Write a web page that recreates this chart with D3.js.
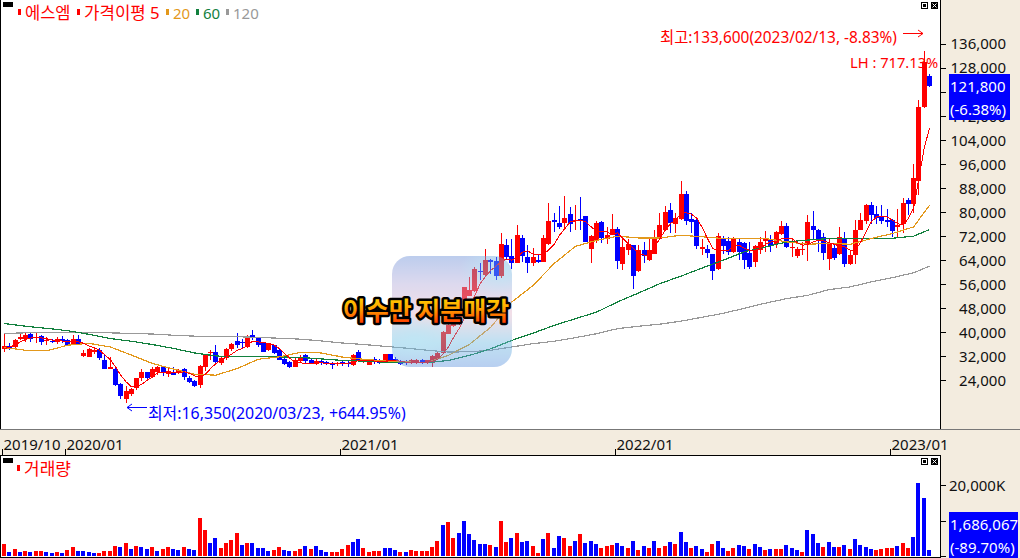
<!DOCTYPE html>
<html>
<head>
<meta charset="utf-8">
<script src="https://d3js.org/d3.v7.min.js"></script>
<style>
  html, body { margin: 0; padding: 0; background: #f3ecdf; overflow: hidden; }
  svg { display: block; }
  text { font-family: "Noto Sans", "Noto Sans CJK KR", sans-serif; }
  .axis text { font-size: 15px; fill: #111; }
  .axis line { stroke: #000; shape-rendering: crispEdges; }
</style>
</head>
<body>
<svg id="drawing_region"></svg>
<script>
// weekly candles, thousand won
const high = [39.5,36.2,37.8,39.5,39.5,40.0,39.5,38.9,38.2,37.8,38.2,38.6,37.5,38.9,38.9,33.9,34.7,34.5,34.5,32.3,31.7,28.6,23.0,21.9,21.2,24.6,27.5,26.8,28.4,28.6,28.4,28.4,28.4,27.8,28.0,25.3,23.9,28.9,32.8,33.9,35.6,31.7,34.5,36.4,39.5,37.8,39.0,40.6,38.4,36.4,36.4,35.8,34.5,31.2,30.3,31.2,32.3,32.8,31.2,31.2,30.8,30.4,30.0,30.0,
  30.5,30.5,32.5,33.9,31.1,30.9,31.6,31.1,32.8,32.8,31.6,30.5,30.5,31.1,31.1,31.1,30.8,32.2,33.3,40.3,42.5,44.4,49.4,55.0,58.3,61.6,63.0,67.5,64.4,65.0,73.0,71.1,71.1,75.5,72.2,68.9,67.8,65.5,72.2,82.8,79.6,81.9,85.2,81.6,82.2,85.0,78.5,72.2,77.0,77.0,75.0,79.2,75.0,
  71.6,71.1,68.9,68.9,70.0,71.1,74.1,79.5,81.9,83.1,79.5,90.2,87.0,79.5,77.5,71.1,68.9,66.1,73.0,72.0,71.7,71.7,71.1,70.0,70.0,68.9,71.7,73.6,72.2,73.6,76.9,76.3,71.1,68.3,70.0,78.9,80.2,74.4,72.8,71.1,68.9,75.0,73.3,67.2,77.2,79.5,82.5,83.3,81.9,82.2,81.1,77.5,80.8,84.5,84.5,95.9,117.2,133.6,125.9];
const low = [33.4,33.9,34.5,37.3,36.7,36.7,36.2,35.6,35.6,36.2,35.9,36.4,35.3,35.6,35.6,31.7,31.5,32.8,30.8,27.6,27.5,21.9,17.8,16.35,18.7,20.8,23.6,23.9,24.8,25.6,25.3,25.0,25.6,25.9,23.9,23.0,21.5,21.3,27.0,30.6,28.9,28.9,30.6,33.7,34.5,34.7,34.5,37.3,35.0,33.2,33.7,32.8,30.6,28.9,28.0,28.2,30.0,29.5,29.5,28.9,28.9,28.9,27.8,28.6,
  28.5,28.3,28.8,30.5,29.6,28.9,29.4,29.2,30.0,30.3,30.0,28.9,28.9,29.4,29.4,29.4,29.4,28.3,30.5,32.8,39.2,41.6,42.2,48.9,51.9,53.3,57.2,58.5,59.4,57.4,58.1,63.9,61.0,62.8,63.3,59.6,61.9,63.0,63.2,68.9,73.3,74.4,73.9,73.3,73.9,73.9,69.8,63.0,69.6,69.6,69.2,72.2,61.1,
  60.6,65.6,54.3,60.0,62.8,63.7,65.9,70.8,73.9,72.8,72.8,77.2,75.6,73.0,67.6,65.6,64.5,57.2,60.6,66.1,65.6,66.3,63.9,61.1,61.1,61.7,66.1,66.7,66.7,67.8,72.2,67.8,65.0,64.5,65.6,63.7,70.6,66.7,63.9,60.6,63.9,65.6,61.7,62.2,62.6,73.9,76.1,76.1,76.1,76.1,75.0,71.7,71.7,73.0,78.9,79.6,85.6,114.6,121.6];
const open = [34.2,35.3,35.0,37.7,37.8,39.3,38.0,38.7,36.9,37.0,36.7,37.5,37.3,35.9,37.8,31.9,31.7,33.4,33.9,30.6,27.8,27.6,22.8,17.8,19.3,21.2,24.5,26.6,25.0,26.5,28.2,25.9,26.8,26.2,27.6,24.8,23.5,22.2,28.4,33.0,33.2,29.8,31.2,34.2,36.9,36.7,35.0,38.9,38.0,36.2,33.9,35.6,33.9,30.9,29.9,28.2,30.2,32.3,30.6,29.5,30.4,29.9,29.7,29.3,
  30.0,29.8,28.9,33.3,30.2,28.9,30.9,30.3,30.2,32.8,30.9,30.3,30.0,29.6,29.6,30.8,29.6,29.6,31.1,33.0,39.4,41.9,42.8,50.8,52.1,53.5,60.2,58.9,63.9,63.5,58.5,68.9,65.2,63.0,71.3,65.0,63.0,63.9,63.3,69.4,77.2,76.3,76.3,79.4,76.8,77.5,78.5,67.5,70.5,76.5,71.0,72.2,74.4,
  62.6,67.3,68.9,60.2,67.2,63.9,65.9,70.8,73.9,80.6,75.9,77.5,86.1,77.5,77.2,67.7,67.7,66.1,61.0,71.3,70.3,66.7,70.0,69.5,66.3,63.3,67.2,70.2,70.6,69.2,72.6,75.2,67.8,65.2,67.2,68.9,75.2,73.9,71.7,64.3,68.1,65.9,70.8,62.6,65.6,74.1,77.0,82.2,79.2,78.3,77.2,77.2,74.8,75.9,84.1,82.6,90.2,114.9,125.2];
const close = [35.3,34.5,37.3,38.2,38.9,37.6,38.4,36.8,37.3,36.7,37.5,37.0,35.6,37.6,35.6,33.0,34.2,33.9,31.2,27.8,28.4,22.3,18.6,20.3,20.9,24.5,26.5,24.5,27.7,28.4,26.4,26.9,25.7,27.2,25.0,23.4,21.9,28.6,32.3,33.4,29.9,31.4,34.3,35.9,35.6,36.4,38.4,38.0,35.6,33.4,35.9,33.0,30.8,29.3,28.2,30.6,31.7,30.2,29.8,30.4,29.5,29.4,28.9,29.5,
  29.2,29.4,32.2,30.8,30.5,30.0,30.3,29.6,32.8,30.5,30.3,29.4,29.5,30.5,30.8,29.8,30.5,31.9,33.1,39.9,42.2,44.2,47.8,54.9,53.9,60.9,59.8,63.9,63.3,58.5,69.2,65.0,62.8,72.2,65.3,63.0,64.9,63.3,71.3,76.9,76.6,75.0,78.1,76.1,77.2,77.0,70.0,71.9,76.3,71.3,72.4,74.2,63.6,
  68.2,69.3,58.6,67.2,65.2,67.2,71.1,75.6,80.0,76.3,77.8,85.9,77.0,76.7,68.6,68.3,66.3,60.2,72.0,68.6,66.7,71.1,66.7,63.9,61.7,68.6,70.0,71.1,68.6,73.2,75.2,68.3,68.2,67.5,67.6,76.7,73.9,70.6,66.3,69.5,64.7,71.5,62.6,65.6,73.9,77.2,82.2,78.9,77.8,76.9,76.7,73.6,75.6,83.1,82.5,91.2,114.9,129.9,121.8];

const ma5 = [34.5,35.0,35.6,36.7,37.5,38.0,38.2,38.0,37.7,37.3,37.3,36.9,36.7,37.0,36.7,36.2,35.3,34.7,33.9,32.3,30.8,28.4,25.6,23.4,21.7,21.7,22.6,23.9,25.0,26.4,26.6,26.6,26.5,26.5,26.7,26.2,25.3,24.8,25.9,27.8,29.5,30.6,31.7,32.6,33.9,34.5,35.6,37.0,36.7,36.4,36.2,35.6,34.5,32.8,31.2,30.0,29.7,29.5,29.5,29.6,29.7,29.5,29.5,29.4,
  29.6,29.6,29.9,30.5,30.5,30.5,30.3,30.1,30.1,30.5,30.5,30.2,29.9,29.8,29.8,29.8,29.9,30.2,30.9,32.8,35.0,38.3,41.1,44.4,48.9,52.2,56.1,58.5,60.5,61.9,63.6,64.2,63.9,65.0,66.6,67.0,65.9,65.8,65.9,67.4,69.2,72.2,74.4,76.6,77.0,77.2,76.6,75.0,73.5,73.3,73.3,72.5,73.0,71.1,69.4,67.8,66.1,
  65.6,65.6,68.3,71.1,73.9,76.1,77.2,79.5,79.7,79.2,77.8,74.8,71.1,67.8,67.2,67.0,67.2,68.9,68.9,67.8,67.2,67.2,67.8,69.2,70.0,70.0,71.1,71.1,71.1,69.7,68.9,69.2,70.0,70.6,70.3,69.7,69.2,68.6,68.3,67.2,67.2,70.0,73.3,76.7,78.3,78.6,78.3,77.2,76.1,75.6,77.8,81.2,91.2,101.2,107.9];

// the slower averages are read every fourth week, plus the last week
const maBars = [...d3.range(0, 176, 4), 175];
const ma20 = [34.8,33.9,33.7,35.6,36.2,35.0,32.3,29.5,27.6,25.9,25.6,27.8,30.9,31.7,33.2,33.0,31.6,30.9,30.3,30.0,29.8,32.2,35.9,41.6,50.0,55.5,62.8,68.5,70.5,71.9,71.3,71.3,72.2,71.7,71.1,71.1,71.1,70.0,69.2,69.5,69.2,71.1,72.8,75.0,82.2];
const ma60 = [42.8,41.9,41.2,40.4,39.2,37.8,36.9,35.8,34.5,33.0,32.0,31.7,31.7,31.7,31.5,31.0,30.5,30.3,29.9,29.8,29.8,30.5,32.2,34.4,37.2,39.6,42.2,44.4,46.6,50.0,53.0,56.1,58.6,61.3,63.9,66.7,68.3,70.0,70.6,71.1,71.1,71.1,71.2,71.9,74.1];
const ma120 = [39.5,39.7,39.8,39.8,39.8,39.7,39.5,39.3,38.9,38.6,38.4,38.4,38.2,37.9,37.6,37.0,36.3,35.8,35.2,34.6,33.9,33.3,33.4,33.9,35.0,36.1,36.9,38.1,39.4,41.1,41.9,42.6,43.6,44.9,46.2,47.9,49.6,51.1,52.2,54.1,55.0,56.7,58.1,59.7,61.9];

// volume in thousand shares, r = rose on the previous week, b = fell
const volume = [3380,1130,1970,1130,1410,1130,1410,1410,1130,850,1130,850,1690,2540,1410,1410,1130,850,850,1410,1410,2820,2540,3660,1970,2820,2540,1970,2540,1410,1970,2540,1970,1690,2540,1970,1690,10700,7320,3660,5070,2250,3660,4510,6480,3100,3660,3660,2250,2250,1410,1690,2540,1690,1410,1410,1970,2820,1970,2820,1690,1130,1130,1130,
  1970,3100,3940,4790,2250,1130,1410,1410,2250,2250,1690,1130,1130,1690,1410,1410,1410,2540,4230,8730,9580,5070,6480,9860,6200,4510,3380,3380,3100,2540,9860,3940,5070,6480,3940,4230,2820,850,4790,6480,2250,5630,5070,2820,4230,6200,3660,4230,3380,2250,2820,3100,3660,2820,2250,4230,1690,2820,2250,4230,2250,2820,3940,3380,6760,
  3940,2250,2820,1970,1130,3380,4230,2250,1410,2250,3100,2820,1970,3380,2540,1690,1970,1970,1970,3100,2250,1690,1130,7320,6200,3660,2540,3940,2540,2540,3100,1970,4790,3100,2540,1970,1690,1970,2250,2250,2820,3660,2250,5350,20470,16370,1686];
const volumeDir = "rbrbrbrrbbrbrrbbbbrrrrbrbrbbrbrrbbrbbrrbbrrrrbrbbbbrrbbrrbrbbb"
  + "rrrrbbrrrrbbbrbrrrrrrbrrbbbbbbrbrrbrbbrrbrbbrrbrbbbrrrbbrbrbrbrrb" + "r"
  + "bbrbbrrbbrrbbrbbrbrrbbbrbbbrbbrbrbbbbrrrrbrrbb";

const priceTicks = [136,128,120,112,104,96,88,80,72,64,56,48,40,32,24];
const volumeTicks = [0,10000,20000];
const dateBars = [0,12,64,116,168];
const dateLabels = ["2019/10","2020/01","2021/01","2022/01","2023/01"];

const W = 1020, H = 558;
const colors = { up: "#ff0000", down: "#0000ff", ma20: "#e3981b", ma60: "#12803e", ma120: "#999999", bg: "#f3ecdf" };

const svg = d3.select("#drawing_region").attr("width", W).attr("height", H);

const x = d3.scaleLinear().domain([0, 175]).range([4, 929]);
const y = d3.scaleLinear().domain([16, 136]).range([404, 43.7]);
const yVol = d3.scaleLinear().domain([0, 20000]).range([556, 485]);

// panels
svg.append("rect").attr("x", 0).attr("y", 0).attr("width", W).attr("height", H).attr("fill", colors.bg);
svg.append("rect").attr("x", 1).attr("y", 0).attr("width", 939).attr("height", 429).attr("fill", "#fff");
svg.append("rect").attr("x", 1).attr("y", 456).attr("width", 939).attr("height", 101).attr("fill", "#fff");

const frame = svg.append("g").attr("shape-rendering", "crispEdges").attr("stroke-width", 1);
frame.append("line").attr("x1", 0.5).attr("x2", 0.5).attr("y1", 0).attr("y2", 429).attr("stroke", "#000");
frame.append("line").attr("x1", 940.5).attr("x2", 940.5).attr("y1", 0).attr("y2", 430).attr("stroke", "#000");
frame.append("line").attr("x1", 0).attr("x2", W).attr("y1", 429.5).attr("y2", 429.5).attr("stroke", "#777");
frame.append("line").attr("x1", 0).attr("x2", 941).attr("y1", 455.5).attr("y2", 455.5).attr("stroke", "#000");
frame.append("line").attr("x1", 0.5).attr("x2", 0.5).attr("y1", 455).attr("y2", 558).attr("stroke", "#000");
frame.append("line").attr("x1", 940.5).attr("x2", 940.5).attr("y1", 455).attr("y2", 558).attr("stroke", "#000");
frame.append("line").attr("x1", 0).attr("x2", 941).attr("y1", 557.5).attr("y2", 557.5).attr("stroke", "#000");

// candles
const bars = d3.range(high.length);
const barLeft = i => Math.round(x(i)) - 2;
const candles = svg.append("g").attr("shape-rendering", "crispEdges");
const candleColor = i => close[i] >= open[i] ? colors.up : colors.down;
candles.selectAll("line").data(bars).join("line")
  .attr("x1", i => barLeft(i) + 2.5)
  .attr("x2", i => barLeft(i) + 2.5)
  .attr("y1", i => y(high[i]))
  .attr("y2", i => y(low[i]))
  .attr("stroke", candleColor);
candles.selectAll("rect").data(bars).join("rect")
  .attr("x", barLeft)
  .attr("width", 5)
  .attr("y", i => y(Math.max(open[i], close[i])))
  .attr("height", i => Math.max(1, Math.abs(y(open[i]) - y(close[i]))))
  .attr("fill", candleColor);

// moving averages
const lineOf = (values, index) => d3.line().x((d, k) => x(index ? index[k] : k) + 0.5).y(d => y(d))(values);
const addLine = (values, index, color, width) => svg.append("path")
  .attr("d", lineOf(values, index))
  .attr("fill", "none")
  .attr("stroke", color)
  .attr("stroke-width", width)
  .attr("shape-rendering", "crispEdges");
addLine(ma120, maBars, colors.ma120, 1.2);
addLine(ma60, maBars, colors.ma60, 1.2);
addLine(ma20, maBars, colors.ma20, 1.2);
addLine(ma5, null, colors.up, 1);

// volume bars
svg.append("g").attr("shape-rendering", "crispEdges")
  .selectAll("rect").data(volume).join("rect")
  .attr("x", (d, i) => barLeft(i))
  .attr("width", 4)
  .attr("y", d => yVol(d))
  .attr("height", d => yVol(0) - yVol(d))
  .attr("fill", (d, i) => volumeDir[i] === "r" ? colors.up : colors.down);

// right axes
const priceAxis = svg.append("g").attr("class", "axis")
  .attr("transform", "translate(941,0)")
  .call(d3.axisRight(y).tickValues(priceTicks).tickSize(5)
    .tickFormat(v => v === 120 ? "" : d3.format(",")(v * 1000)));
const volAxis = svg.append("g").attr("class", "axis")
  .attr("transform", "translate(941,0)")
  .call(d3.axisRight(yVol).tickValues(volumeTicks).tickSize(5).tickFormat(v => v === 20000 ? "20,000K" : ""));
priceAxis.select(".domain").remove();
volAxis.select(".domain").remove();
priceAxis.selectAll("text").attr("text-anchor", "end").attr("x", 65).attr("dy", "0.35em");
volAxis.selectAll("text").attr("x", 8).attr("dy", "0.35em");

// date axis
const dates = svg.append("g").attr("class", "axis");
dateBars.forEach((b, k) => {
  const px = barLeft(b) + 0.5;
  dates.append("line").attr("x1", px).attr("x2", px).attr("y1", 449).attr("y2", 455);
  dates.append("text").attr("x", px + 1).attr("y", 450).text(dateLabels[k]);
});

// last value tags
function valueTag(x0, y0, w, h, lines) {
  svg.append("rect").attr("x", x0).attr("y", y0).attr("width", w).attr("height", h).attr("fill", "#0000ff");
  lines.forEach((t, k) => svg.append("text")
    .attr("x", x0 + 1).attr("y", y0 + 18 + k * 23)
    .attr("font-size", 15).attr("fill", "#fff").text(t));
}
valueTag(949, 74, 61, 46, ["121,800", "(-6.38%)"]);
valueTag(949, 512, 69, 46, ["1,686,067", "(-89.70%)"]);

// legends
function legend(items, yPos) {
  items.forEach(it => {
    svg.append("rect").attr("x", it.x - 7).attr("y", yPos - 5).attr("width", 3).attr("height", 6)
      .attr("fill", it.color).attr("shape-rendering", "crispEdges");
    svg.append("text").attr("x", it.x).attr("y", yPos + 5)
      .attr("font-size", it.size || 15).attr("fill", it.color).text(it.text);
  });
}
legend([
  { x: 25, color: colors.up, text: "에스엠", size: 16.5 },
  { x: 84, color: colors.up, text: "가격이평 5", size: 16.8 },
  { x: 173, color: colors.ma20, text: "20" },
  { x: 203, color: colors.ma60, text: "60" },
  { x: 233, color: colors.ma120, text: "120" }
], 14);
legend([{ x: 24, color: colors.up, text: "거래량", size: 17 }], 470);

// window buttons
function buttons(yPos) {
  svg.append("rect").attr("x", 921.5).attr("y", yPos + 0.5).attr("width", 6).attr("height", 6)
    .attr("fill", "#fff").attr("stroke", "#000").attr("shape-rendering", "crispEdges");
  svg.append("rect").attr("x", 923).attr("y", yPos + 2).attr("width", 3).attr("height", 3).attr("fill", "#000");
  svg.append("rect").attr("x", 931).attr("y", yPos).attr("width", 7).attr("height", 7).attr("fill", "#000");
  svg.append("path").attr("d", `M932.5 ${yPos + 1.5}l4 4m0 -4l-4 4`).attr("stroke", "#fff").attr("stroke-width", 1);
}
buttons(2);
buttons(458);
svg.append("rect").attr("x", 3).attr("y", 2).attr("width", 10).attr("height", 5).attr("fill", "#000");
svg.append("rect").attr("x", 3).attr("y", 458).attr("width", 10).attr("height", 5).attr("fill", "#000");

// high and low notes
svg.append("text").attr("x", 660).attr("y", 43).attr("font-size", 15.4).attr("fill", colors.up).text("최고:133,600(2023/02/13, -8.83%)");
svg.append("path").attr("d", "M903 33.5H923M918 30l5 3.5l-5 3.5").attr("fill", "none").attr("stroke", colors.up);
svg.append("text").attr("x", 850).attr("y", 68).attr("font-size", 14.7).attr("fill", colors.up).text("LH : 717.13%");
svg.append("text").attr("x", 148).attr("y", 419).attr("font-size", 15.9).attr("fill", colors.down).text("최저:16,350(2020/03/23, +644.95%)");
svg.append("path").attr("d", "M147 407.5H127M132 404l-5 3.5l5 3.5").attr("fill", "none").attr("stroke", colors.down);

// news badge
const defs = svg.append("defs");
const base = defs.append("linearGradient").attr("id", "badgeBase").attr("x1", 0).attr("y1", 0).attr("x2", 0).attr("y2", 1);
[["0%", "#6c90d8"], ["25%", "#b2abda"], ["52%", "#e3b8cc"], ["78%", "#71bbe3"], ["100%", "#6295de"]]
  .forEach(s => base.append("stop").attr("offset", s[0]).attr("stop-color", s[1]));
const spot = defs.append("radialGradient").attr("id", "badgeSpot");
spot.append("stop").attr("offset", "0%").attr("stop-color", "#71c8e8").attr("stop-opacity", 0.9);
spot.append("stop").attr("offset", "100%").attr("stop-color", "#71c8e8").attr("stop-opacity", 0);
const title = defs.append("linearGradient").attr("id", "titleFill").attr("x1", 0).attr("y1", 0).attr("x2", 0).attr("y2", 1);
[["0%", "#ffee00"], ["50%", "#ffa000"], ["100%", "#ff2000"]]
  .forEach(s => title.append("stop").attr("offset", s[0]).attr("stop-color", s[1]));
defs.append("clipPath").attr("id", "badgeClip").append("rect")
  .attr("x", 392).attr("y", 256).attr("width", 120).attr("height", 111).attr("rx", 18);

const badge = svg.append("g").attr("clip-path", "url(#badgeClip)").attr("opacity", 0.45);
badge.append("rect").attr("x", 392).attr("y", 256).attr("width", 120).attr("height", 111).attr("fill", "url(#badgeBase)");
badge.append("ellipse").attr("cx", 415).attr("cy", 340).attr("rx", 45).attr("ry", 25).attr("fill", "url(#badgeSpot)");
badge.append("ellipse").attr("cx", 500).attr("cy", 270).attr("rx", 40).attr("ry", 28).attr("fill", "url(#badgeSpot)");

svg.append("text").attr("x", 426).attr("y", 320).attr("text-anchor", "middle")
  .attr("font-size", 25).attr("font-weight", 700)
  .attr("style", 'font-family: "Noto Sans CJK KR", sans-serif; paint-order: stroke')
  .attr("stroke", "#000").attr("stroke-width", 5).attr("stroke-linejoin", "round")
  .attr("fill", "url(#titleFill)")
  .text("이수만 지분매각");
</script>
</body>
</html>
